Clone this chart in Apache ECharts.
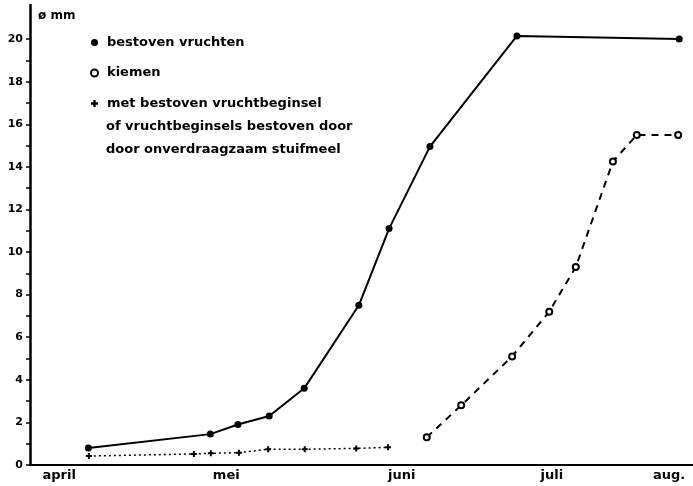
<!DOCTYPE html>
<html>
<head>
<meta charset="utf-8">
<script src="https://cdn.jsdelivr.net/npm/echarts@6/dist/echarts.min.js"></script>
<style>
  html, body { margin: 0; padding: 0; background: #fff; }
  #chart { width: 693px; height: 486px; }
</style>
</head>
<body>
<div id="chart"></div>
<script>
// Month labels along the time axis (position in days from the axis origin)
const monthLabels = ['april', 'mei', 'juni', 'juli', 'aug.'];
const monthPos = [5.5, 37.0, 70.1, 98.4, 120.5];

// Y axis tick labels (diameter in mm)
const mmLabels = [0, 2, 4, 6, 8, 10, 12, 14, 16, 18, 20];
const mmTicks = [0, 1, 2, 3, 4, 5, 6, 7, 8, 9, 10, 11, 12, 13, 14, 15, 16, 17, 18, 19, 20];

// bestoven vruchten
const vruchtenDays = [11, 34, 39.2, 45.1, 51.7, 62, 67.7, 75.4, 91.8, 122.4];
const vruchtenMm = [0.8, 1.45, 1.9, 2.3, 3.6, 7.5, 11.1, 14.95, 20.15, 20.0];

// kiemen
const kiemenDays = [74.8, 81.3, 90.9, 97.9, 102.9, 109.9, 114.4, 122.2];
const kiemenMm = [1.3, 2.8, 5.1, 7.2, 9.3, 14.25, 15.5, 15.5];

// met onbestoven vruchtbeginsel / onverdraagzaam stuifmeel
const onbestovenDays = [11.1, 30.9, 34.1, 39.4, 44.9, 51.8, 61.5, 67.5];
const onbestovenMm = [0.42, 0.52, 0.55, 0.58, 0.74, 0.74, 0.78, 0.83];

const names = ['bestoven vruchten', 'kiemen', 'met bestoven vruchtbeginsel'];
const extraLines = 'of vruchtbeginsels bestoven door\ndoor onverdraagzaam stuifmeel';

const FONT = 'DejaVu Sans';
const plusPath = 'path://M2,0H4V2H6V4H4V6H2V4H0V2H2Z';

function pairs(xs, ys) { return xs.map((x, i) => [x, ys[i]]); }

const chart = echarts.init(document.getElementById('chart'), null, { renderer: 'canvas' });

chart.setOption({
  backgroundColor: '#fff',
  animation: false,
  grid: { left: 30, right: 0, top: 5, bottom: 21, containLabel: false },
  xAxis: {
    type: 'value', min: 0, max: 125,
    axisLine: { show: true, lineStyle: { color: '#000', width: 2 } },
    axisTick: { show: false },
    splitLine: { show: false },
    axisLabel: {
      customValues: monthPos,
      formatter: v => monthLabels[monthPos.indexOf(v)] || '',
      color: '#000', fontFamily: FONT, fontWeight: 'bold', fontSize: 13, margin: 4
    }
  },
  yAxis: {
    type: 'value', min: 0, max: 21.6,
    name: 'ø mm', nameLocation: 'end', nameGap: -17,
    nameTextStyle: { color: '#000', fontFamily: FONT, fontWeight: 'bold', fontSize: 12, align: 'left', padding: [0, 0, 0, 8] },
    axisLine: { show: true, lineStyle: { color: '#000', width: 2.5 } },
    axisTick: { show: true, customValues: mmTicks, length: 4, lineStyle: { color: '#000', width: 1.5 } },
    splitLine: { show: false },
    axisLabel: {
      customValues: mmLabels,
      color: '#000', fontFamily: FONT, fontWeight: 'bold', fontSize: 11, margin: 7
    }
  },
  legend: {
    orient: 'vertical', left: 85, top: 31, itemGap: 17.5,
    itemWidth: 7, itemHeight: 7,
    selectedMode: false,
    textStyle: { color: '#000', fontFamily: FONT, fontWeight: 'bold', fontSize: 13, padding: [0, 0, 0, 4] },
    data: [
      { name: names[0], icon: 'circle', itemStyle: { color: '#000' } },
      { name: names[1], icon: 'emptyCircle', itemStyle: { color: '#000', borderColor: '#000', borderWidth: 1.8 } },
      { name: names[2], icon: plusPath, itemStyle: { color: '#000' } }
    ]
  },
  graphic: [{
    type: 'text', left: 106, top: 115,
    style: { text: extraLines, fill: '#000', font: 'bold 13px "DejaVu Sans"', lineHeight: 23 }
  }],
  series: [
    {
      name: names[0], type: 'line', data: pairs(vruchtenDays, vruchtenMm),
      symbol: 'circle', symbolSize: 7,
      lineStyle: { color: '#000', width: 2 },
      itemStyle: { color: '#000' }
    },
    {
      name: names[1], type: 'line', data: pairs(kiemenDays, kiemenMm),
      symbol: 'emptyCircle', symbolSize: 6,
      lineStyle: { color: '#000', width: 2, type: [7, 6] },
      itemStyle: { color: '#000', borderWidth: 1.8 }
    },
    {
      name: names[2], type: 'line', data: pairs(onbestovenDays, onbestovenMm),
      symbol: plusPath, symbolSize: 6,
      lineStyle: { color: '#000', width: 1.5, type: [2, 3] },
      itemStyle: { color: '#000' }
    }
  ]
});
</script>
</body>
</html>
